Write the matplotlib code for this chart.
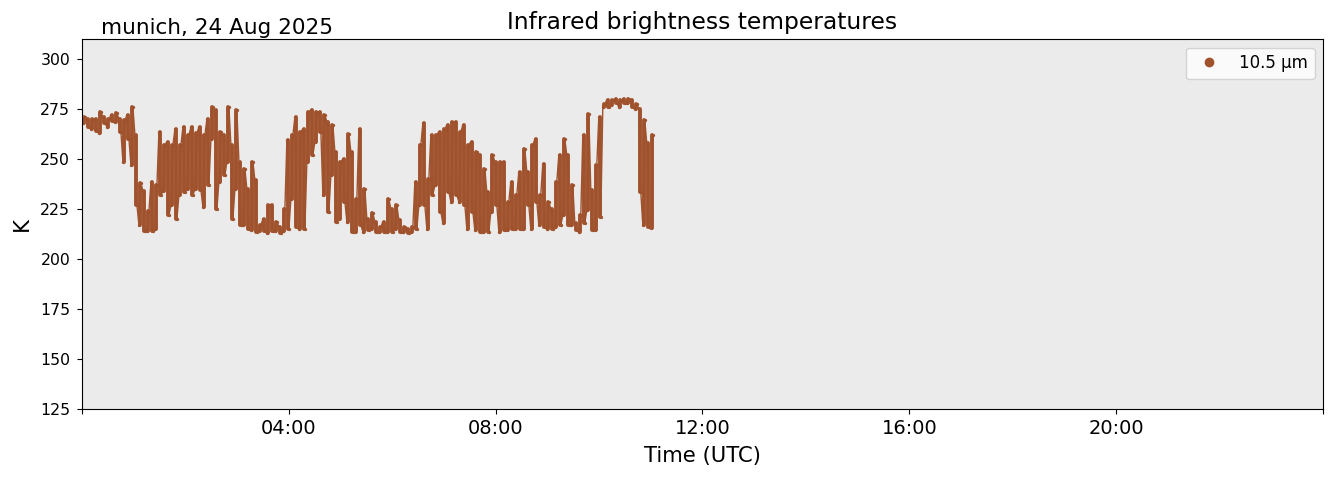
import numpy as np
import matplotlib
matplotlib.use("Agg")
import matplotlib.pyplot as plt
from matplotlib.lines import Line2D

# ---- data: 10.5 um brightness temperature (K), min / max per ~4.6-minute sample
bt_low = [268, 266, 265, 264, 263, 268, 266, 269, 268.5, 263.5,
          248.5, 260, 247, 227, 217, 214, 214, 214, 215, 232,
          234, 222, 227, 220, 232, 233.7,
          235, 232, 235, 234.5, 226, 237, 260, 225, 238.7, 242,
          248.7, 220, 235, 217, 217, 215, 214.5, 213.7, 214, 214,
          213, 214, 214, 213, 214, 215,
          230, 216, 215, 215, 248.7, 252, 258.7, 263.7, 232, 223.7,
          242, 218.7, 220, 228.7, 218.7, 213.7, 213.7, 217, 213.7, 214.5,
          215, 213.7, 213.7, 213.7, 213.7, 213.7,
          215, 213.7, 213.7, 213, 213.7, 215, 227, 227, 215, 232,
          237, 223.7, 218, 233.7, 228.7, 232, 228.7, 227, 215, 223.7,
          214.5, 213.7, 213.7, 213.7, 223.7, 227, 213.7,
          214.5, 214.5, 215, 215, 215, 215, 227, 215, 228.7, 217,
          216, 215, 215, 216, 217, 222, 217, 217, 214.5, 213.7,
          218, 224.5, 214.5, 214.5, 221,
          276, 276, 277, 278, 276, 278, 278, 276, 275.3,
          233.7, 217, 216, 215.3]
bt_high = [271, 270, 270, 270, 273.5, 271, 270, 272, 273, 270,
           269.5, 272, 276, 262, 238, 234, 224, 238.5, 237, 263.7,
           257, 258.7, 257, 265, 257, 266,
           262, 266, 263, 266, 262, 270, 276, 274.5, 263.7, 262,
           276, 257, 274.5, 248.7, 245, 235, 248.7, 239.5, 217, 220,
           227, 227, 218.7, 216, 225, 259.5,
           262, 271, 263.7, 265, 273.7, 274.5, 273.7, 273.7, 272, 268.7,
           267, 253.7, 248.7, 250, 262.8, 253.7, 230, 265, 235, 220,
           223, 218.7, 216, 218.7, 230, 225,
           227, 219.5, 216, 215, 216, 238.7, 257, 268, 240, 262,
           262, 263.7, 265, 267, 268.7, 268.7, 263.7, 267, 257, 258.7,
           253.7, 252, 245, 233.7, 252, 248.7, 248.7,
           248.7, 228.7, 238.7, 232, 243.7, 255, 243.7, 257, 260, 232,
           247.8, 228.7, 225, 238.7, 252, 260, 252, 237, 218, 222,
           262, 272.5, 234.5, 247, 271,
           277.5, 279.5, 279.5, 280, 279.5, 280, 280, 279.5, 277.8,
           275.3, 269.5, 258, 262]
sample_step_min = 4.64          # sampling interval (minutes)
first_sample_min = 2.3          # first sample time (minutes after 00:00 UTC)

yticks = [125, 150, 175, 200, 225, 250, 275, 300]
xtick_hours = [0, 4, 8, 12, 16, 20, 24]
xtick_labels = ["", "04:00", "08:00", "12:00", "16:00", "20:00", ""]
series_label = "10.5 µm"
title = "Infrared brightness temperatures"
place_date = "munich, 24 Aug 2025"

color = "#A0522D"

t_hours = (first_sample_min + sample_step_min * np.arange(len(bt_low))) / 60.0
lo = np.asarray(bt_low, dtype=float)
hi = np.asarray(bt_high, dtype=float)
d = sample_step_min / 60.0

# dense trace: within each sample interval the signal swings between min and max
xs, ys = [], []
for i, (t, a, b) in enumerate(zip(t_hours, lo, hi)):
    first, second = (a, b) if i % 2 == 0 else (b, a)
    xs += [t - d / 4, t + d / 4]
    ys += [first, second]

fig = plt.figure(figsize=(13.35, 4.78), dpi=100)
ax = fig.add_axes([0.0614, 0.1444, 0.9296, 0.7736])
ax.set_facecolor("#EBEBEB")

ax.vlines(t_hours, lo, hi, color=color, lw=2.8, capstyle="round")
ax.plot(xs, ys, color=color, lw=1.0, solid_joinstyle="round")
ax.plot(xs, ys, ls="none", marker="o", ms=2.4, mew=0, color=color)

ax.set_xlim(0, 24)
ax.set_ylim(125, 310)
ax.set_yticks(yticks)
ax.set_xticks(xtick_hours)
ax.set_xticklabels(xtick_labels)
ax.tick_params(axis="x", labelsize=14)
ax.tick_params(axis="y", labelsize=11.3, pad=5)
ax.set_xlabel("Time (UTC)", fontsize=15.2, labelpad=6)
ax.set_ylabel("K", fontsize=15.2, labelpad=6)
ax.set_title(title, fontsize=16.8, pad=7.5)
ax.text(0.0153, 1.004, place_date, transform=ax.transAxes, fontsize=15.5,
        ha="left", va="bottom")

handle = Line2D([], [], marker="o", ls="none", color=color, markersize=6)
ax.legend([handle], [series_label], loc="upper right", fontsize=12)

fig.savefig("out.png", dpi=100)
